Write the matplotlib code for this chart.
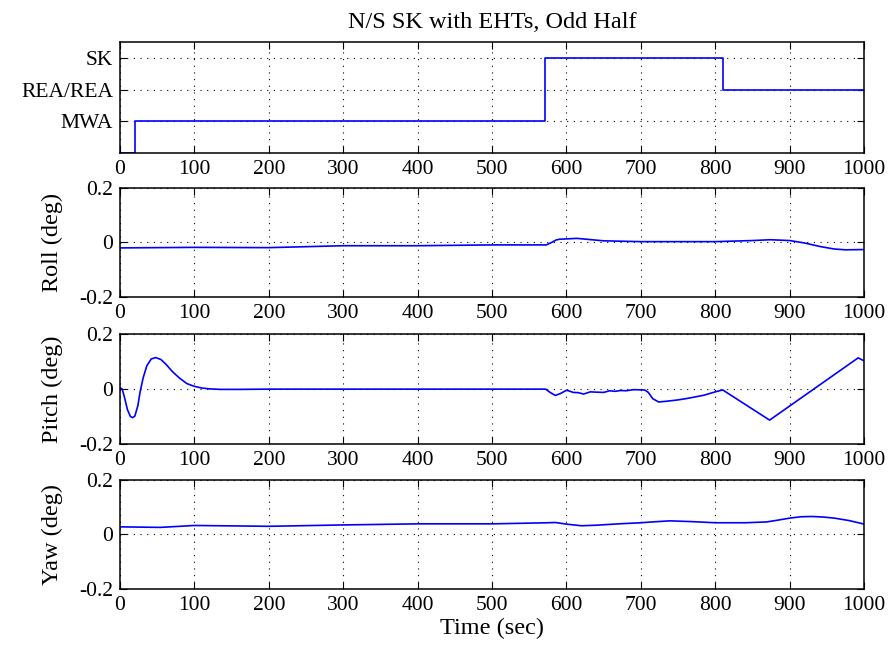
import numpy as np
import matplotlib
matplotlib.use('Agg')
import matplotlib.pyplot as plt

plt.rcParams['font.family'] = ['Liberation Serif', 'DejaVu Serif']
plt.rcParams['font.size'] = 15.5

# controller mode history (0 = off, 1 = MWA, 2 = REA/REA, 3 = SK)
mode_t = [0, 20, 571, 810, 1000]
mode_v = [0, 1, 3, 2, 2]
mode_names = ['MWA', 'REA/REA', 'SK']

# attitude errors (deg)
roll_t = [0, 100, 200, 300, 400, 500, 573, 580, 586, 591, 600, 614, 630, 650, 700, 800,
          850, 874, 900, 920, 941, 960, 975, 1000]
roll_v = [-0.020, -0.018, -0.019, -0.012, -0.012, -0.009, -0.009, 0.000, 0.009, 0.012,
          0.013, 0.015, 0.011, 0.006, 0.003, 0.003, 0.007, 0.010, 0.007, -0.002, -0.015,
          -0.024, -0.027, -0.026]

pitch_t = [0, 3, 6, 10, 14, 17, 20, 24, 27, 31, 36, 42, 48, 55, 62, 70, 80, 90, 100, 110,
           120, 135, 160, 200, 572, 578, 585, 592, 600, 605, 609, 616, 623, 632, 640, 650,
           658, 665, 673, 680, 690, 705, 710, 716, 724, 735, 748, 760, 770, 785, 800, 810,
           873, 992, 1000]
pitch_v = [0.005, 0.0, -0.03, -0.075, -0.1, -0.104, -0.098, -0.06, -0.01, 0.04, 0.085,
           0.11, 0.115, 0.108, 0.09, 0.065, 0.04, 0.02, 0.01, 0.004, 0.001, -0.001, -0.001,
           0.0, 0.0, -0.012, -0.023, -0.016, -0.004, -0.008, -0.012, -0.013, -0.018, -0.010,
           -0.011, -0.012, -0.006, -0.008, -0.005, -0.006, -0.002, -0.003, -0.012, -0.035,
           -0.047, -0.044, -0.040, -0.035, -0.030, -0.022, -0.010, -0.003, -0.113, 0.114,
           0.103]

yaw_t = [0, 54, 100, 200, 300, 400, 500, 575, 585, 600, 620, 640, 670, 700, 715, 739, 770,
         800, 840, 869, 885, 900, 915, 930, 945, 960, 980, 1000]
yaw_v = [0.028, 0.026, 0.033, 0.030, 0.035, 0.039, 0.039, 0.043, 0.044, 0.038, 0.032, 0.034,
         0.039, 0.043, 0.046, 0.050, 0.047, 0.043, 0.043, 0.046, 0.053, 0.060, 0.065, 0.066,
         0.064, 0.060, 0.051, 0.038]

fig = plt.figure(figsize=(8.89, 6.53), dpi=100)

boxes = [[0.135, 0.7657, 0.837, 0.170],
         [0.135, 0.5452, 0.837, 0.167],
         [0.135, 0.3201, 0.837, 0.168],
         [0.135, 0.0980, 0.837, 0.167]]
axs = [fig.add_axes(b) for b in boxes]

dots = (0, (1, 5))


def style(ax):
    ax.set_xlim(0, 1000)
    ax.set_xticks(np.arange(0, 1001, 100))
    ax.tick_params(direction='in', top=True, right=True, length=5, width=0.8, pad=5)
    ax.grid(True, color='k', linestyle=dots, linewidth=0.8)
    for s in ax.spines.values():
        s.set_linewidth(1.1)


ax = axs[0]
ax.step(mode_t, mode_v, where='post', color='b', lw=1.2)
ax.set_ylim(0, 3.5)
ax.set_yticks([1, 2, 3])
ax.set_yticklabels(mode_names)
style(ax)
ax.set_title('N/S SK with EHTs, Odd Half', fontsize=17.5, pad=10)

for ax, t, v, name in zip(axs[1:], [roll_t, pitch_t, yaw_t], [roll_v, pitch_v, yaw_v],
                          ['Roll (deg)', 'Pitch (deg)', 'Yaw (deg)']):
    ax.plot(t, v, color='b', lw=1.2)
    ax.set_ylim(-0.2, 0.2)
    ax.set_yticks([-0.2, 0, 0.2])
    ax.set_yticklabels(['-0.2', '0', '0.2'])
    ax.set_ylabel(name, fontsize=17.5)
    ax.yaxis.set_label_coords(-0.077, 0.5)
    style(ax)

axs[-1].set_xlabel('Time (sec)', fontsize=17.5, labelpad=2)

fig.savefig('out.png', dpi=100)
